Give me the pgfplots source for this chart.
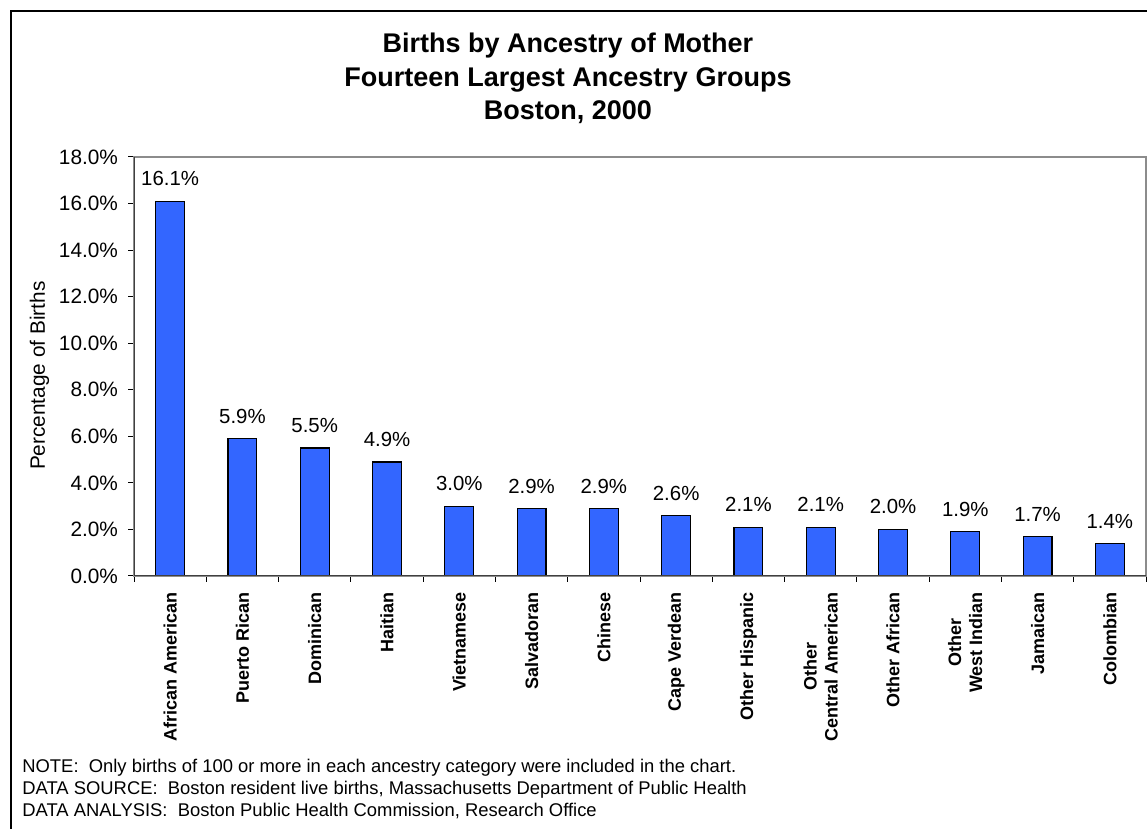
\documentclass[border=0pt]{standalone}
\usepackage{fontspec}
\setmainfont{Liberation Sans}
\usepackage{pgfplots}
\pgfplotsset{compat=1.18}
\definecolor{barblue}{RGB}{51,102,255}

\begin{document}
\begin{tikzpicture}
\useasboundingbox (0,0) rectangle (573.5pt,414.5pt);
% outer frame, cut off at the right and bottom in the original
\draw[line width=1pt] (5.5pt,-5pt) -- (5.5pt,409pt) -- (590pt,409pt);
\begin{scope}[every node/.style={font=\fontsize{13.5}{16}\selectfont\bfseries, anchor=base}]
\node at (284pt,388pt) {Births by Ancestry of Mother};
\node at (284pt,371pt) {Fourteen Largest Ancestry Groups};
\node at (284pt,354.5pt) {Boston, 2000};
\end{scope}
\begin{scope}[every node/.style={font=\fontsize{9.2}{11}\selectfont, anchor=base west, inner sep=0pt}]
\node at (11pt,28pt) {NOTE:\ \ Only births of 100 or more in each ancestry category were included in the chart.};
\node at (11pt,17pt) {DATA SOURCE:\ \ Boston resident live births, Massachusetts Department of Public Health};
\node at (11pt,6pt) {DATA ANALYSIS:\ \ Boston Public Health Commission, Research Office};
\end{scope}
\begin{axis}[
    at={(67pt,126.5pt)}, anchor=south west,
    width=506pt, height=209.5pt, scale only axis,
    ymin=0, ymax=18, ytick={0,2,...,18},
    xmin=-0.5, xmax=13.5,
    xtick={-0.5,0.5,...,13.5}, x tick label as interval,
    xticklabels={African American, Puerto Rican, Dominican, Haitian, Vietnamese,
      Salvadoran, Chinese, Cape Verdean, Other Hispanic, {Other\\Central American},
      Other African, {Other\\West Indian}, Jamaican, Colombian},
    xticklabel style={rotate=90, anchor=east, align=center,
      font=\bfseries\fontsize{9}{10.5}\selectfont},
    xticklabel shift=1.5pt,
    yticklabel={\pgfmathprintnumber[fixed,fixed zerofill,precision=1]{\tick}\%},
    yticklabel style={font=\fontsize{10.4}{12}\selectfont},
    yticklabel shift=1.5pt,
    /pgf/number format/assume math mode=true,
    scaled y ticks=false,
    tick pos=left,
    tick align=outside, major tick length=3pt,
    tick style={black, line width=0.5pt},
    axis line style={black!45, line width=0.6pt},
    ylabel={Percentage of Births},
    ylabel style={font=\fontsize{10.4}{12}\selectfont, at={(ticklabel cs:0.478)}, yshift=-2pt},
    ybar, bar width=0.4,
    point meta=y,
    nodes near coords={\pgfmathprintnumber[fixed,fixed zerofill,precision=1]{\pgfplotspointmeta}\%},
    nodes near coords style={font=\fontsize{10.2}{12}\selectfont, black, yshift=4pt},
]
\addplot[fill=barblue, draw=black, line width=0.6pt] coordinates {
  (0,16.1) (1,5.9) (2,5.5) (3,4.9) (4,3.0) (5,2.9) (6,2.9)
  (7,2.6) (8,2.1) (9,2.1) (10,2.0) (11,1.9) (12,1.7) (13,1.4)
};
\draw[black!75, line width=0.7pt] (rel axis cs:0,1) -- (rel axis cs:0,0) -- (rel axis cs:1,0);
\end{axis}
\end{tikzpicture}
\end{document}
